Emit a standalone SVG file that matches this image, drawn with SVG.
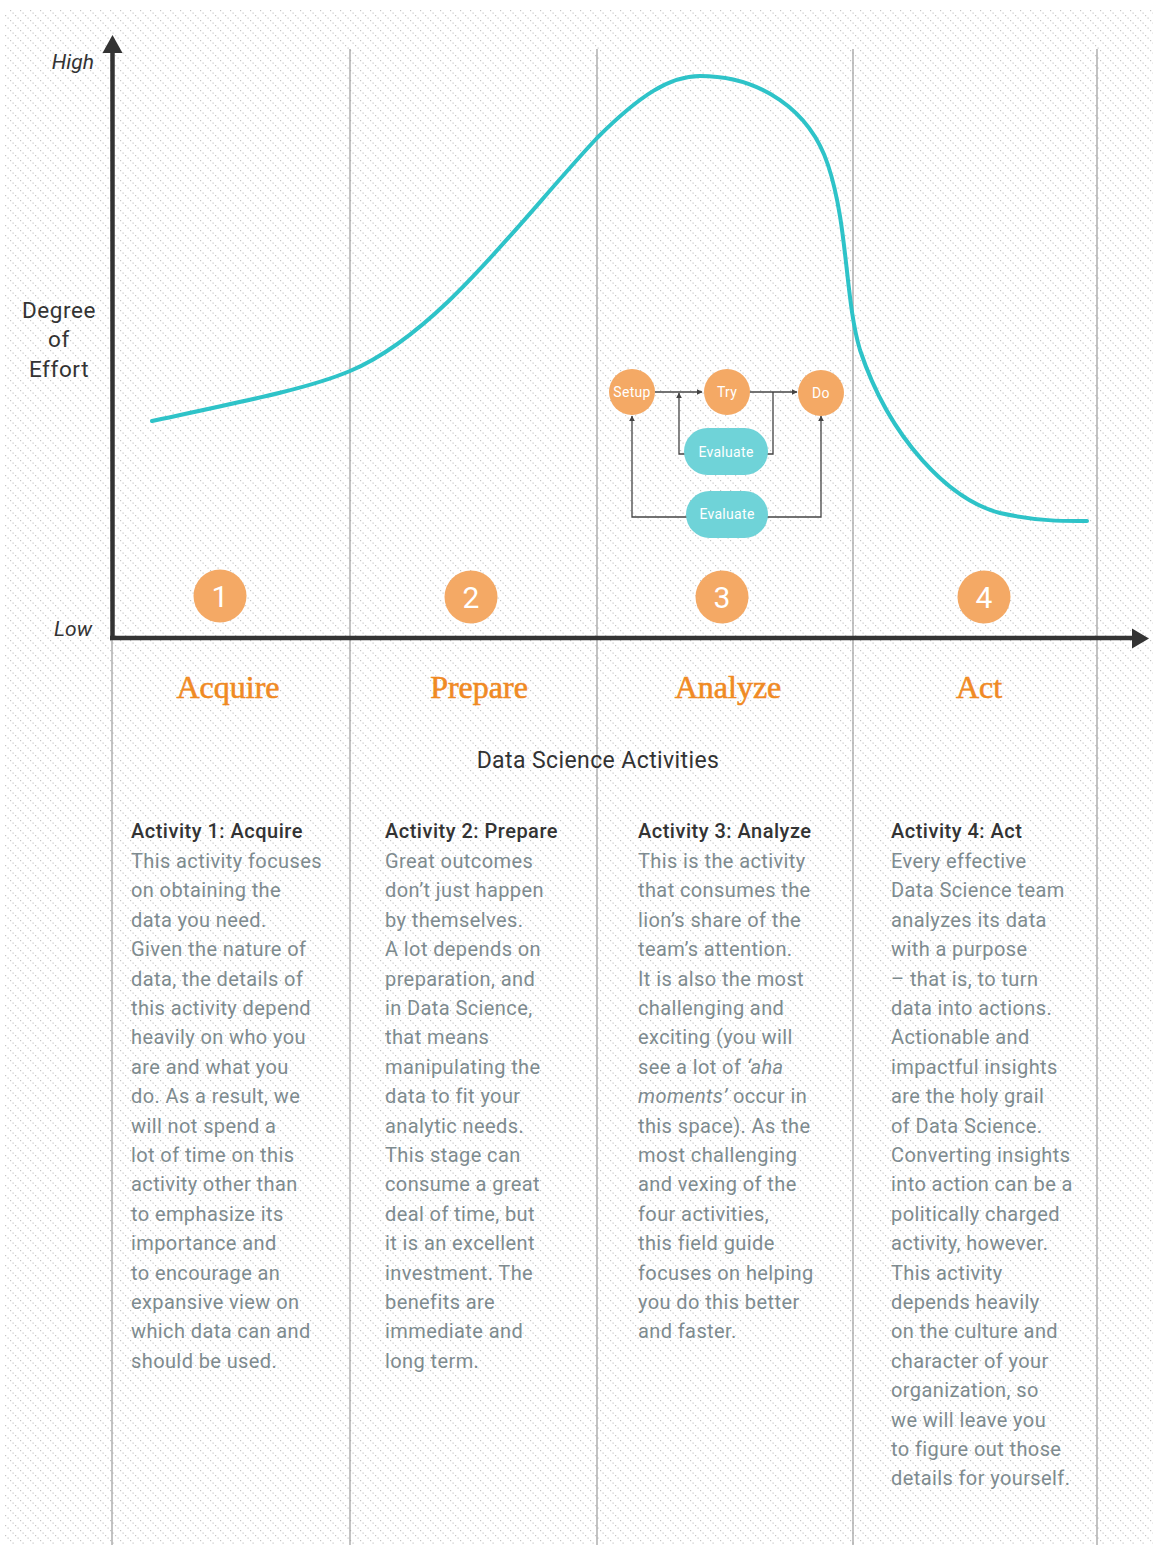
<svg xmlns="http://www.w3.org/2000/svg" width="1156" height="1545" viewBox="0 0 1156 1545">
<defs>
<pattern id="hatch" patternUnits="userSpaceOnUse" width="10" height="10">
<rect x="0" y="0" width="1.2" height="1.2" fill="#c6c6c6"/>
<rect x="2.5" y="2.5" width="1.2" height="1.2" fill="#c6c6c6"/>
<rect x="5" y="5" width="1.2" height="1.2" fill="#c6c6c6"/>
<rect x="7.5" y="7.5" width="1.2" height="1.2" fill="#c6c6c6"/>
</pattern>
<marker id="arr" viewBox="0 0 10 10" refX="9" refY="5" markerWidth="6" markerHeight="6" markerUnits="userSpaceOnUse" orient="auto">
<path d="M0,0 L10,5 L0,10 Z" fill="#444"/>
</marker>
<style>
.grid{stroke:#9a9a9a;stroke-width:1.2;fill:none}
.axis{stroke:#333;stroke-width:4.5;fill:none}
.lbl{font-family:Roboto,"Liberation Sans",sans-serif;fill:#333}
.num{font-family:Roboto,"Liberation Sans",sans-serif;font-size:30px;fill:#fff;text-anchor:middle}
.numc{fill:#f4a965}
.title{font-family:"Liberation Serif",serif;font-size:32px;fill:#f08a24;stroke:#f08a24;stroke-width:0.6px;text-anchor:middle}
.head{font-family:Roboto,"Liberation Sans",sans-serif;font-size:20px;font-weight:500;fill:#333;letter-spacing:0.5px}
.body{font-family:Roboto,"Liberation Sans",sans-serif;font-size:20px;fill:#7e8b8f;letter-spacing:0.4px}
.conn{stroke:#444;stroke-width:1.3;fill:none}
.node{fill:#f4a965}
.pill{fill:#6fd3d8}
.ntx{font-family:Roboto,"Liberation Sans",sans-serif;font-size:14px;fill:#fff;text-anchor:middle;letter-spacing:0.3px}
</style>
</defs>
<rect x="0" y="0" width="1156" height="1545" fill="#fff"/>
<rect x="5" y="10" width="1148" height="1535" fill="url(#hatch)"/>

<g id="gridlines">
<line class="grid" x1="350" y1="49" x2="350" y2="1545"/>
<line class="grid" x1="597" y1="49" x2="597" y2="1545"/>
<line class="grid" x1="853" y1="49" x2="853" y2="1545"/>
<line class="grid" x1="1097" y1="49" x2="1097" y2="1545"/>
<line class="grid" x1="112" y1="640" x2="112" y2="1545"/>
</g>

<g id="axes">
<line class="axis" x1="112.5" y1="50" x2="112.5" y2="640"/>
<line class="axis" x1="110" y1="638" x2="1134" y2="638"/>
<polygon points="112.5,35 102.5,53 122.5,53" fill="#333"/>
<polygon points="1149,638.5 1132,628.5 1132,648.5" fill="#333"/>
<text class="lbl" x="94" y="69" font-size="21" font-style="italic" text-anchor="end">High</text>
<text class="lbl" x="92" y="636" font-size="21" font-style="italic" text-anchor="end">Low</text>
<text class="lbl" x="59" y="318" font-size="22.5" letter-spacing="0.6" text-anchor="middle">Degree</text>
<text class="lbl" x="59" y="347" font-size="22.5" letter-spacing="0.6" text-anchor="middle">of</text>
<text class="lbl" x="59" y="377" font-size="22.5" letter-spacing="0.6" text-anchor="middle">Effort</text>
</g>

<g id="curve">
<path d="M152,421 C250,400 310,388 350,371 C440,333 520,220 597,138 C640,95 670,76 700,76 C760,76 810,110 828,165 C848,225 845,300 860,350 C890,440 950,500 1000,513 C1040,522 1070,521 1087,521" fill="none" stroke="#2ec3c8" stroke-width="4" stroke-linecap="round"/>
</g>

<g id="connectors">
<line class="conn" x1="655" y1="392" x2="702" y2="392" marker-end="url(#arr)"/>
<line class="conn" x1="749" y1="392" x2="797" y2="392" marker-end="url(#arr)"/>
<polyline class="conn" points="685,454 679,454 679,393" marker-end="url(#arr)"/>
<polyline class="conn" points="767,454 773,454 773,392"/>
<polyline class="conn" points="688,517 632,517 632,416" marker-end="url(#arr)"/>
<polyline class="conn" points="767,517 821,517 821,416" marker-end="url(#arr)"/>
</g>

<g id="node-setup"><circle class="node" cx="632" cy="392" r="23"/><text class="ntx" x="632" y="397">Setup</text></g>
<g id="node-try"><circle class="node" cx="727" cy="392" r="23"/><text class="ntx" x="727" y="397">Try</text></g>
<g id="node-do"><circle class="node" cx="821" cy="393" r="23"/><text class="ntx" x="821" y="398">Do</text></g>
<g id="node-evaluate1"><rect class="pill" x="684" y="428" width="84" height="47" rx="23.5"/><text class="ntx" x="726" y="457">Evaluate</text></g>
<g id="node-evaluate2"><rect class="pill" x="686" y="491" width="82" height="47" rx="23.5"/><text class="ntx" x="727" y="519">Evaluate</text></g>

<g id="stage-1"><circle class="numc" cx="220" cy="596" r="26.5"/><text class="num" x="220" y="607">1</text><text class="title" x="228" y="698">Acquire</text></g>
<g id="stage-2"><circle class="numc" cx="471" cy="597" r="26.5"/><text class="num" x="471" y="608">2</text><text class="title" x="479" y="698">Prepare</text></g>
<g id="stage-3"><circle class="numc" cx="722" cy="597" r="26.5"/><text class="num" x="722" y="608">3</text><text class="title" x="728" y="698">Analyze</text></g>
<g id="stage-4"><circle class="numc" cx="984" cy="597" r="26.5"/><text class="num" x="984" y="608">4</text><text class="title" x="979" y="698">Act</text></g>

<text class="lbl" x="598" y="768" font-size="23" letter-spacing="0.4" text-anchor="middle">Data Science Activities</text>

<g id="col-1">
<text class="head" x="131" y="838">Activity 1: Acquire</text>
<text class="body" x="131" y="868">This activity focuses</text>
<text class="body" x="131" y="897.4">on obtaining the</text>
<text class="body" x="131" y="926.8">data you need.</text>
<text class="body" x="131" y="956.2">Given the nature of</text>
<text class="body" x="131" y="985.6">data, the details of</text>
<text class="body" x="131" y="1015">this activity depend</text>
<text class="body" x="131" y="1044.4">heavily on who you</text>
<text class="body" x="131" y="1073.8">are and what you</text>
<text class="body" x="131" y="1103.2">do. As a result, we</text>
<text class="body" x="131" y="1132.6">will not spend a</text>
<text class="body" x="131" y="1162">lot of time on this</text>
<text class="body" x="131" y="1191.4">activity other than</text>
<text class="body" x="131" y="1220.8">to emphasize its</text>
<text class="body" x="131" y="1250.2">importance and</text>
<text class="body" x="131" y="1279.6">to encourage an</text>
<text class="body" x="131" y="1309">expansive view on</text>
<text class="body" x="131" y="1338.4">which data can and</text>
<text class="body" x="131" y="1367.8">should be used.</text>
</g>

<g id="col-2">
<text class="head" x="385" y="838">Activity 2: Prepare</text>
<text class="body" x="385" y="868">Great outcomes</text>
<text class="body" x="385" y="897.4">don’t just happen</text>
<text class="body" x="385" y="926.8">by themselves.</text>
<text class="body" x="385" y="956.2">A lot depends on</text>
<text class="body" x="385" y="985.6">preparation, and</text>
<text class="body" x="385" y="1015">in Data Science,</text>
<text class="body" x="385" y="1044.4">that means</text>
<text class="body" x="385" y="1073.8">manipulating the</text>
<text class="body" x="385" y="1103.2">data to fit your</text>
<text class="body" x="385" y="1132.6">analytic needs.</text>
<text class="body" x="385" y="1162">This stage can</text>
<text class="body" x="385" y="1191.4">consume a great</text>
<text class="body" x="385" y="1220.8">deal of time, but</text>
<text class="body" x="385" y="1250.2">it is an excellent</text>
<text class="body" x="385" y="1279.6">investment. The</text>
<text class="body" x="385" y="1309">benefits are</text>
<text class="body" x="385" y="1338.4">immediate and</text>
<text class="body" x="385" y="1367.8">long term.</text>
</g>

<g id="col-3">
<text class="head" x="638" y="838">Activity 3: Analyze</text>
<text class="body" x="638" y="868">This is the activity</text>
<text class="body" x="638" y="897.4">that consumes the</text>
<text class="body" x="638" y="926.8">lion’s share of the</text>
<text class="body" x="638" y="956.2">team’s attention.</text>
<text class="body" x="638" y="985.6">It is also the most</text>
<text class="body" x="638" y="1015">challenging and</text>
<text class="body" x="638" y="1044.4">exciting (you will</text>
<text class="body" x="638" y="1073.8">see a lot of <tspan font-style="italic">‘aha</tspan></text>
<text class="body" x="638" y="1103.2"><tspan font-style="italic">moments’</tspan> occur in</text>
<text class="body" x="638" y="1132.6">this space). As the</text>
<text class="body" x="638" y="1162">most challenging</text>
<text class="body" x="638" y="1191.4">and vexing of the</text>
<text class="body" x="638" y="1220.8">four activities,</text>
<text class="body" x="638" y="1250.2">this field guide</text>
<text class="body" x="638" y="1279.6">focuses on helping</text>
<text class="body" x="638" y="1309">you do this better</text>
<text class="body" x="638" y="1338.4">and faster.</text>
</g>

<g id="col-4">
<text class="head" x="891" y="838">Activity 4: Act</text>
<text class="body" x="891" y="868">Every effective</text>
<text class="body" x="891" y="897.4">Data Science team</text>
<text class="body" x="891" y="926.8">analyzes its data</text>
<text class="body" x="891" y="956.2">with a purpose</text>
<text class="body" x="891" y="985.6">– that is, to turn</text>
<text class="body" x="891" y="1015">data into actions.</text>
<text class="body" x="891" y="1044.4">Actionable and</text>
<text class="body" x="891" y="1073.8">impactful insights</text>
<text class="body" x="891" y="1103.2">are the holy grail</text>
<text class="body" x="891" y="1132.6">of Data Science.</text>
<text class="body" x="891" y="1162">Converting insights</text>
<text class="body" x="891" y="1191.4">into action can be a</text>
<text class="body" x="891" y="1220.8">politically charged</text>
<text class="body" x="891" y="1250.2">activity, however.</text>
<text class="body" x="891" y="1279.6">This activity</text>
<text class="body" x="891" y="1309">depends heavily</text>
<text class="body" x="891" y="1338.4">on the culture and</text>
<text class="body" x="891" y="1367.8">character of your</text>
<text class="body" x="891" y="1397.2">organization, so</text>
<text class="body" x="891" y="1426.6">we will leave you</text>
<text class="body" x="891" y="1456">to figure out those</text>
<text class="body" x="891" y="1485.4">details for yourself.</text>
</g>
</svg>
